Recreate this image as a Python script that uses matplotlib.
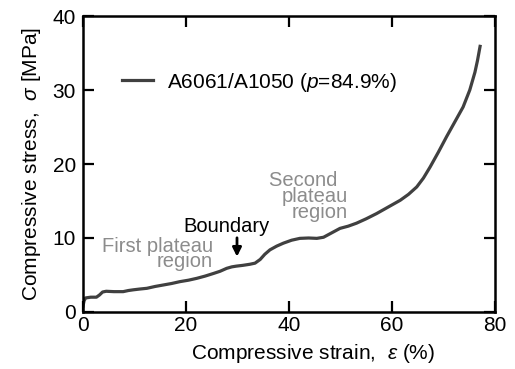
import matplotlib
matplotlib.use("Agg")
import matplotlib.pyplot as plt

plt.rcParams['font.family'] = ['Liberation Sans', 'DejaVu Sans']
plt.rcParams['mathtext.fontset'] = 'custom'
plt.rcParams['mathtext.it'] = 'Liberation Sans:italic'
plt.rcParams['mathtext.rm'] = 'Liberation Sans'

# Stress-strain curve
strain = [0.0, 0.2, 0.5, 1.5, 2.6, 3.2, 3.8, 4.5, 6.0, 7.8, 8.8, 9.8, 11.0,
          12.4, 14.0, 15.6, 17.2, 18.8, 20.5, 22.1, 23.7, 25.3, 26.6, 27.9,
          28.9, 29.8, 31.0, 32.4, 33.4, 34.4, 35.3, 36.3, 37.6, 38.9, 40.5,
          42.1, 43.8, 45.4, 46.7, 48.3, 49.9, 51.5, 53.1, 55.0, 57.0, 59.3,
          61.6, 63.2, 64.8, 66.1, 67.4, 69.0, 70.6, 72.2, 73.8, 75.1, 76.1,
          76.6, 77.1]
stress = [0.8, 1.5, 1.9, 2.0, 2.0, 2.3, 2.7, 2.8, 2.75, 2.75, 2.9, 3.0, 3.1,
          3.2, 3.45, 3.65, 3.85, 4.1, 4.3, 4.55, 4.85, 5.2, 5.5, 5.9,
          6.1, 6.2, 6.3, 6.45, 6.6, 7.1, 7.8, 8.4, 8.9, 9.3, 9.7,
          9.95, 10.0, 9.95, 10.1, 10.7, 11.3, 11.6, 12.0, 12.6, 13.3, 14.2,
          15.1, 15.9, 16.9, 18.1, 19.6, 21.6, 23.7, 25.7, 27.7, 30.0, 32.4,
          34.0, 35.9]
label = "A6061/A1050 ($\\it{p}$=84.9%)"

fig = plt.figure(figsize=(5.15, 3.69), dpi=100)
ax = fig.add_axes([0.1612, 0.1545, 0.8, 0.8021])

ax.plot(strain, stress, color='#404040', lw=2.3, label=label)

ax.set_xlim(0, 80)
ax.set_ylim(0, 40)
ax.set_xticks([0, 20, 40, 60, 80])
ax.set_yticks([0, 10, 20, 30, 40])
ax.tick_params(direction='in', length=8, width=1.6, labelsize=15,
               top=True, right=True)
ax.tick_params(axis='x', pad=3)
ax.tick_params(axis='y', pad=5)
for s in ax.spines.values():
    s.set_linewidth(1.8)

ax.set_xlabel("Compressive strain,  $\\varepsilon$ (%)", fontsize=15)
ax.xaxis.set_label_coords(0.558, -0.102)
ax.set_ylabel("Compressive stress,  $\\sigma$ [MPa]", fontsize=15, labelpad=7)

ax.legend(loc='center left', bbox_to_anchor=(0.095, 0.777), frameon=False,
          fontsize=15, handlelength=1.5, handletextpad=0.67, borderaxespad=0,
          borderpad=0)

# region labels (baseline = last line)
grey = '#8c8c8c'
ax.text(25.2, 6.08, "First plateau\nregion", color=grey, fontsize=14.5,
        ha='right', va='baseline', multialignment='right', linespacing=0.75)
ax.text(51.5, 12.7, "Second  \nplateau\nregion", color=grey, fontsize=14.5,
        ha='right', va='baseline', multialignment='right', linespacing=0.8)
ax.text(27.9, 10.8, "Boundary", color='black', fontsize=14.5, ha='center', va='baseline')
ax.annotate("", xy=(29.9, 7.1), xytext=(29.9, 10.4),
            arrowprops=dict(arrowstyle='-|>', color='black', lw=2.0,
                            mutation_scale=13))

fig.savefig("out.png", dpi=100)
